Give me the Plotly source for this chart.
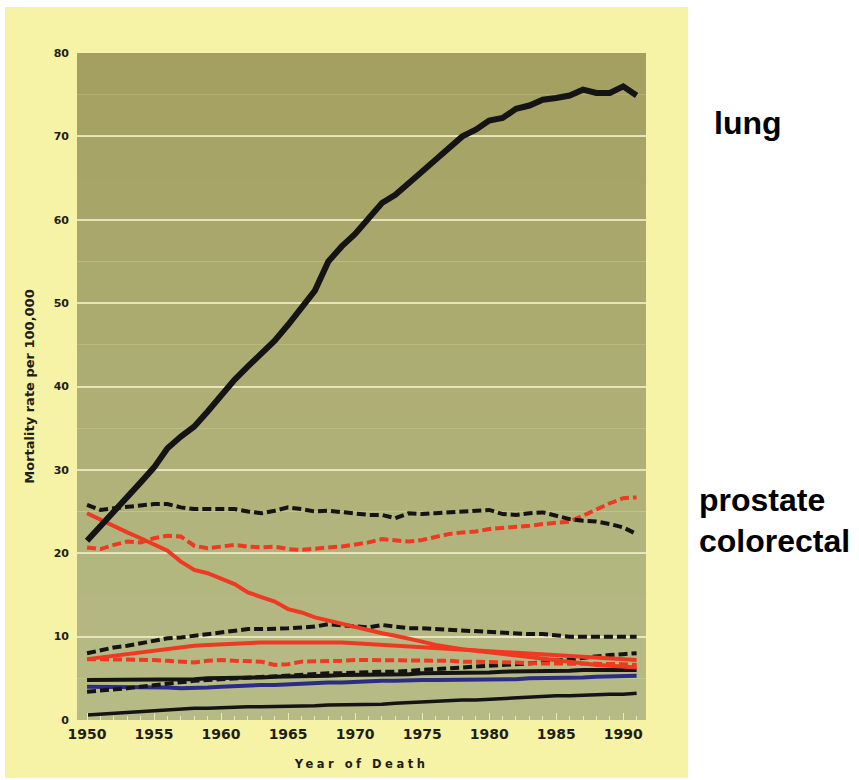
import plotly.graph_objects as go

years = list(range(1950, 1992))

lung = [21.5, 23.2, 25.0, 26.8, 28.5, 30.3, 32.6, 34.0, 35.2, 37.0, 38.9, 40.8, 42.4, 44.0,
        45.5, 47.4, 49.6, 51.5, 55.0, 56.8, 58.3, 60.2, 62.0, 63.0, 64.5, 65.8, 67.2, 68.6,
        70.0, 70.8, 71.9, 72.2, 73.3, 73.7, 74.4, 74.6, 74.9, 75.6, 75.2, 75.2, 76.0, 74.9]

colorectal = [25.8, 25.2, 25.4, 25.6, 25.7, 25.9, 25.9, 25.5, 25.3, 25.3, 25.4, 25.3, 25.0, 24.8,
              25.1, 25.5, 25.3, 25.0, 25.1, 24.9, 24.7, 24.6, 24.6, 24.2, 24.8, 24.7, 24.8, 24.9,
              25.0, 25.2, 25.2, 24.7, 24.6, 24.8, 24.9, 24.5, 24.1, 23.9, 23.8, 23.5, 23.1, 22.3]

prostate = [20.7, 20.5, 21.0, 21.4, 21.3, 21.8, 22.1, 22.0, 20.9, 20.6, 20.8, 21.0, 20.8, 20.7,
            20.8, 20.5, 20.4, 20.6, 20.7, 20.8, 21.0, 21.3, 21.7, 21.5, 21.4, 21.6, 22.0, 22.3,
            22.5, 22.6, 22.9, 23.0, 23.1, 23.3, 23.5, 23.6, 23.8, 24.5, 25.3, 26.0, 26.6, 26.7]

stomach = [24.8, 24.0, 23.2, 22.5, 21.8, 21.0, 20.3, 19.0, 18.0, 17.6, 17.0, 16.3, 15.3, 14.8,
           14.2, 13.3, 12.9, 12.3, 11.9, 11.5, 11.1, 10.8, 10.4, 10.1, 9.8, 9.4, 9.0, 8.7,
           8.5, 8.3, 8.1, 7.9, 7.7, 7.5, 7.3, 7.1, 6.9, 6.8, 6.6, 6.5, 6.4, 6.3]

pancreas = [8.0, 8.4, 8.7, 8.9, 9.2, 9.5, 9.8, 9.9, 10.1, 10.3, 10.5, 10.8, 10.9, 10.9,
            10.9, 11.0, 11.1, 11.2, 11.5, 11.4, 11.3, 11.1, 11.4, 11.2, 11.0, 11.0, 10.9, 10.8,
            10.7, 10.6, 10.5, 10.4, 10.4, 10.3, 10.3, 10.1, 10.0, 10.0, 10.0, 10.0, 10.0, 10.0]

leukemia = [7.3, 7.5, 7.8, 8.0, 8.2, 8.4, 8.6, 8.7, 8.9, 9.0, 9.1, 9.2, 9.2, 9.3,
            9.3, 9.3, 9.3, 9.4, 9.3, 9.3, 9.2, 9.1, 9.0, 8.9, 8.8, 8.7, 8.6, 8.5,
            8.4, 8.3, 8.2, 8.1, 8.0, 7.9, 7.8, 7.7, 7.6, 7.5, 7.4, 7.3, 7.3, 7.2]

red_dash_low = [7.3, 7.3, 7.2, 7.3, 7.3, 7.2, 7.1, 7.0, 6.9, 7.1, 7.2, 7.1, 7.0, 7.0,
                6.6, 6.7, 7.0, 7.0, 7.1, 7.1, 7.2, 7.2, 7.2, 7.2, 7.1, 7.2, 7.1, 7.1,
                7.0, 7.0, 6.9, 6.9, 6.9, 6.8, 6.8, 6.8, 6.7, 6.7, 6.7, 6.7, 6.7, 6.6]

black_dash_low = [3.4, 3.5, 3.7, 3.8, 4.0, 4.2, 4.4, 4.5, 4.7, 4.8, 4.9, 5.0, 5.1, 5.2,
                  5.3, 5.4, 5.5, 5.5, 5.6, 5.6, 5.7, 5.8, 5.8, 5.8, 5.9, 5.9, 6.0, 6.1,
                  6.2, 6.3, 6.4, 6.5, 6.6, 6.8, 6.9, 7.1, 7.3, 7.5, 7.6, 7.8, 7.9, 8.0]

black_mid = [4.8, 4.8, 4.8, 4.8, 4.8, 4.8, 4.9, 4.9, 4.9, 5.0, 5.0, 5.0, 5.1, 5.1,
             5.2, 5.2, 5.3, 5.3, 5.3, 5.4, 5.4, 5.4, 5.5, 5.5, 5.5, 5.6, 5.6, 5.6,
             5.7, 5.7, 5.7, 5.8, 5.8, 5.8, 5.9, 5.9, 5.9, 6.0, 6.0, 6.0, 6.0, 6.0]

blue_line = [4.0, 4.0, 4.0, 4.0, 4.0, 3.9, 3.9, 3.8, 3.8, 3.9, 4.0, 4.1, 4.1, 4.2,
             4.2, 4.3, 4.4, 4.4, 4.5, 4.5, 4.6, 4.7, 4.7, 4.7, 4.8, 4.8, 4.8, 4.8,
             4.9, 4.9, 4.9, 4.9, 4.9, 5.0, 5.0, 5.0, 5.1, 5.1, 5.2, 5.2, 5.3, 5.3]

black_low = [0.6, 0.7, 0.8, 0.9, 1.0, 1.1, 1.2, 1.3, 1.4, 1.4, 1.5, 1.5, 1.6, 1.6,
             1.6, 1.7, 1.7, 1.7, 1.8, 1.8, 1.8, 1.9, 1.9, 2.0, 2.1, 2.2, 2.2, 2.3,
             2.4, 2.4, 2.5, 2.6, 2.6, 2.7, 2.8, 2.9, 2.9, 3.0, 3.0, 3.1, 3.1, 3.2]

y_ticks = [0, 10, 20, 30, 40, 50, 60, 70, 80]
x_ticks = [1950, 1955, 1960, 1965, 1970, 1975, 1980, 1985, 1990]
side_labels = ["lung", "prostate", "colorectal"]

BLACK = "#141414"
RED = "#ee3a22"
BLUE = "#2b2c86"
DASH = "9px,4px"

series = [
    (black_low, BLACK, 3.5, "solid"),
    (blue_line, BLUE, 4, "solid"),
    (black_mid, BLACK, 4, "solid"),
    (black_dash_low, BLACK, 4, DASH),
    (red_dash_low, RED, 4, DASH),
    (leukemia, RED, 4, "solid"),
    (pancreas, BLACK, 4, DASH),
    (stomach, RED, 4, "solid"),
    (prostate, RED, 4, DASH),
    (colorectal, BLACK, 4, DASH),
    (lung, BLACK, 6, "solid"),
]

fig = go.Figure()
for vals, col, w, dash in series:
    fig.add_trace(go.Scatter(x=years, y=vals, mode="lines",
                             line=dict(color=col, width=w, dash=dash),
                             hoverinfo="skip", showlegend=False))

shapes = [dict(type="rect", xref="paper", yref="paper", x0=-0.1265, x1=1.0738,
               y0=-0.087, y1=1.069, fillcolor="#f6f2a6", line=dict(width=0), layer="below")]
# olive background bands (slight vertical gradient)
top = (164, 160, 98)
bot = (182, 187, 134)
nb = 16
for i in range(nb):
    t = i / (nb - 1)
    c = tuple(round(top[k] + (bot[k] - top[k]) * t) for k in range(3))
    shapes.append(dict(type="rect", xref="paper", yref="paper", x0=0, x1=1,
                       y0=1 - (i + 1) / nb, y1=1 - i / nb,
                       fillcolor="rgb(%d,%d,%d)" % c, line=dict(width=0), layer="below"))

fig.update_layout(
    width=859, height=780,
    margin=dict(l=77, r=213, t=53, b=60),
    paper_bgcolor="white",
    plot_bgcolor="rgba(0,0,0,0)",
    shapes=shapes,
    xaxis=dict(range=[1949.25, 1991.7], tickvals=x_ticks, ticktext=[str(v) for v in x_ticks],
               ticks="inside", ticklen=7, tickwidth=1, tickcolor="#ece8c4",
               minor=dict(dtick=1, tick0=1950, ticks="inside", ticklen=4, tickcolor="#ece8c4", tickwidth=1),
               showgrid=False, zeroline=False, showline=False,
               ticklabelstandoff=4,
               tickfont=dict(family="DejaVu Sans", size=14, color="#1e1e14", weight="bold"),
               title=dict(text="<span style='letter-spacing:3.5px'>Year of Death</span>",
                          font=dict(family="DejaVu Sans", size=11.5, color="#1e1e14", weight="bold"),
                          standoff=18)),
    yaxis=dict(range=[0, 80], tickvals=y_ticks, ticks="", showgrid=True,
               gridcolor="rgba(240,236,200,0.85)", gridwidth=1.5, zeroline=False, showline=False,
               ticklabelstandoff=7,
               tickfont=dict(family="DejaVu Sans", size=11, color="#1e1e14", weight="bold"),
               title=dict(text="Mortality rate per 100,000",
                          font=dict(family="DejaVu Sans", size=13, color="#1e1e14", weight="bold"),
                          standoff=16)),
)

label_pos = [(1.116, 0.895), (1.089, 0.33), (1.089, 0.268)]
for txt, (ax, ay) in zip(side_labels, label_pos):
    fig.add_annotation(text=txt, xref="paper", yref="paper", x=ax, y=ay,
                       xanchor="left", yanchor="middle", showarrow=False,
                       font=dict(family="Liberation Sans", size=32, color="black", weight="bold"))

fig.write_html("out.html", config={"displayModeBar": False},
               post_script="document.body.style.margin='0';")
